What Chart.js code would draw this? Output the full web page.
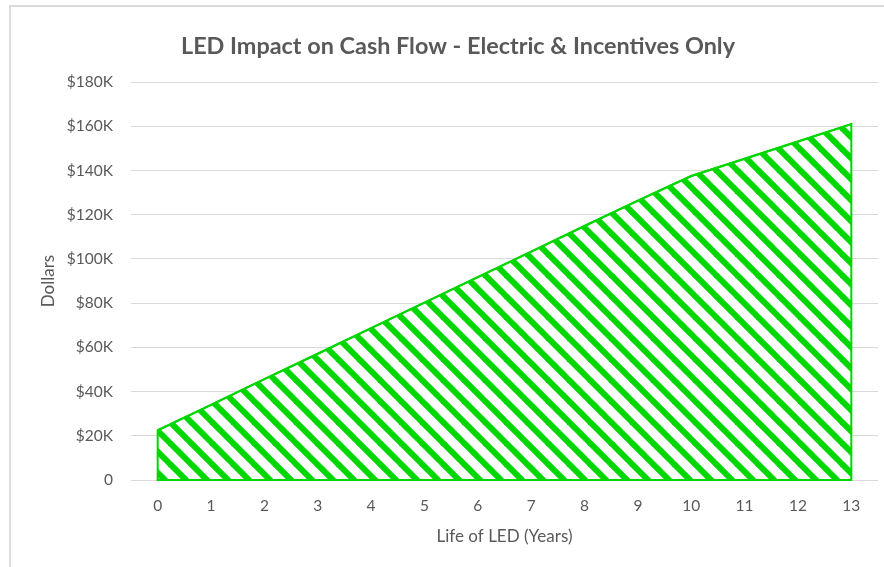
<!DOCTYPE html>
<html lang="en">
<head>
<meta charset="UTF-8">
<title>LED Impact on Cash Flow</title>
<style>
  html, body { margin: 0; padding: 0; background: #fff; overflow: hidden; }
  #wrap { position: relative; width: 884px; height: 567px; }
  #frame {
    position: absolute; left: 9px; top: 5px; width: 1000px; height: 1000px;
    border-left: 2px solid #dcdcdc; border-top: 2px solid #dcdcdc;
    pointer-events: none;
  }
  canvas { position: absolute; left: 0; top: 0; }
</style>
</head>
<body>
<div id="wrap">
  <canvas id="chart" width="884" height="567"></canvas>
  <div id="frame"></div>
</div>

<script src="https://cdn.jsdelivr.net/npm/chart.js"></script>
<script>
  // data
  var years = ['0', '1', '2', '3', '4', '5', '6', '7', '8', '9', '10', '11', '12', '13'];
  var cashFlow = [22500, 34000, 45600, 57100, 68700, 80200, 91800, 103300, 114900, 126400, 137500, 145300, 153100, 161000];
  var yTicks = [0, 20000, 40000, 60000, 80000, 100000, 120000, 140000, 160000, 180000];
  var yTickLabels = ['0', '$20K', '$40K', '$60K', '$80K', '$100K', '$120K', '$140K', '$160K', '$180K'];

  var GREEN = '#00d600';
  var TEXT = '#595959';

  // diagonal hatch like Excel's "wide downward diagonal"
  function makeHatch() {
    var s = 21;
    var c = document.createElement('canvas');
    c.width = s; c.height = s;
    var g = c.getContext('2d');
    g.fillStyle = '#fff';
    g.fillRect(0, 0, s, s);
    g.strokeStyle = GREEN;
    g.lineWidth = 6;
    [-s, 0, s].forEach(function (k) {
      g.beginPath();
      g.moveTo(k - 2, -2);
      g.lineTo(k + s + 2, s + 2);
      g.stroke();
    });
    return g.createPattern(c, 'repeat');
  }

  // close the filled area with the sides and the base, like the original
  var outline = {
    id: 'outline',
    afterDatasetsDraw: function (chart) {
      var pts = chart.getDatasetMeta(0).data;
      var base = chart.scales.y.getPixelForValue(0);
      var ctx = chart.ctx;
      ctx.save();
      ctx.strokeStyle = GREEN;
      ctx.lineWidth = 2;
      ctx.beginPath();
      ctx.moveTo(pts[0].x, base);
      pts.forEach(function (p) { ctx.lineTo(p.x, p.y); });
      ctx.lineTo(pts[pts.length - 1].x, base);
      ctx.closePath();
      ctx.stroke();
      ctx.restore();
    }
  };

  Chart.defaults.font.family = 'Lato, "Open Sans", sans-serif';
  Chart.defaults.color = TEXT;

  new Chart(document.getElementById('chart'), {
    type: 'line',
    data: {
      labels: years,
      datasets: [{
        label: 'Cash flow',
        data: cashFlow,
        fill: 'origin',
        backgroundColor: makeHatch(),
        borderColor: GREEN,
        borderWidth: 2,
        pointRadius: 0,
        tension: 0
      }]
    },
    options: {
      responsive: false,
      animation: false,
      layout: { padding: { left: 38, right: 6, top: 0, bottom: 20 } },
      plugins: {
        legend: { display: false },
        tooltip: { enabled: false },
        title: {
          display: true,
          text: 'LED Impact on Cash Flow - Electric & Incentives Only',
          color: TEXT,
          font: { size: 23.4, weight: 'bold' },
          padding: { top: 32, bottom: 22 }
        }
      },
      scales: {
        x: {
          type: 'category',
          offset: true,
          afterFit: function (scale) { scale.height = 67; },
          grid: { display: false, drawTicks: false },
          border: { display: false },
          ticks: { font: { size: 15.5 }, padding: 17, maxRotation: 0 },
          title: { display: true, text: 'Life of LED (Years)', font: { size: 17 }, padding: { top: 13, bottom: 0 } }
        },
        y: {
          min: 0,
          max: 180000,
          afterBuildTicks: function (scale) {
            scale.ticks = yTicks.map(function (v) { return { value: v }; });
          },
          afterFit: function (scale) { scale.width = 93; },
          grid: { color: '#d9d9d9', lineWidth: 1, drawTicks: false },
          border: { display: false },
          ticks: {
            font: { size: 15.5 },
            padding: 18,
            callback: function (v) { return yTickLabels[yTicks.indexOf(v)]; }
          },
          title: { display: true, text: 'Dollars', font: { size: 17 }, padding: { top: 0, bottom: 0 } }
        }
      }
    },
    plugins: [outline]
  });
</script>
</body>
</html>
